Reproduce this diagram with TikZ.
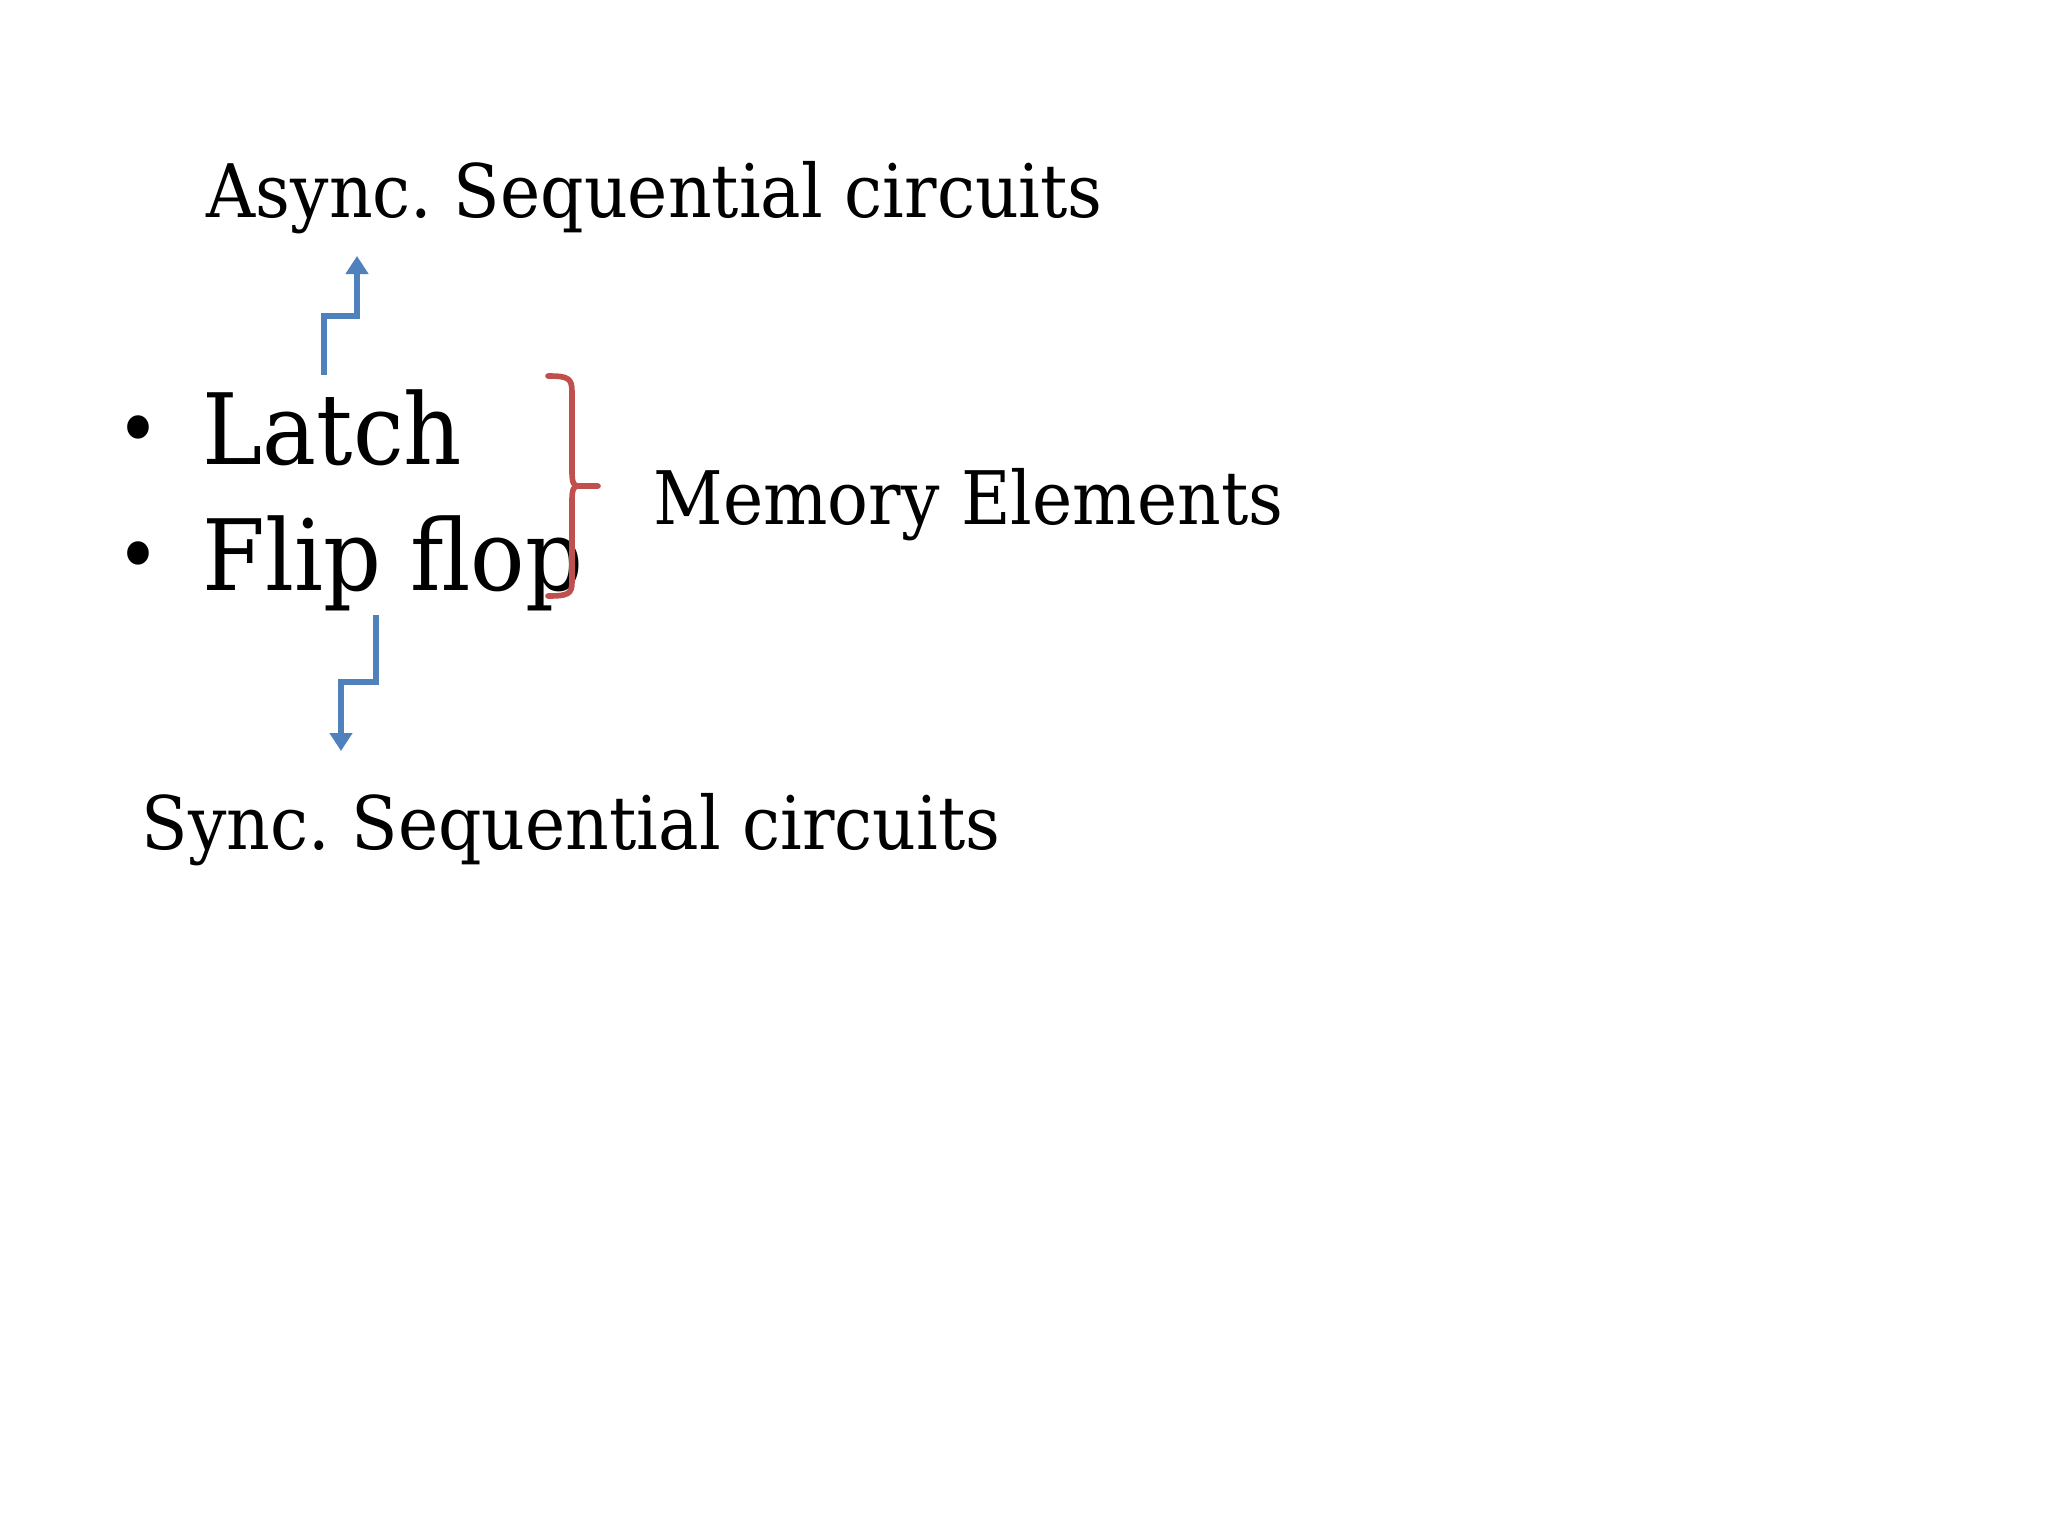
\documentclass[tikz,border=0pt]{standalone}
\usepackage{fontspec}
\setmainfont[FakeStretch=0.92]{DejaVu Serif}
\usetikzlibrary{arrows.meta}
\definecolor{ablue}{HTML}{4F81BD}
\definecolor{ared}{HTML}{C0504D}
\tikzset{
  lbl/.style={anchor=base west, inner sep=0pt, font=\fontsize{21}{25}\selectfont},
  big/.style={anchor=base west, inner sep=0pt, font=\fontsize{28}{33}\selectfont},
  bul/.style={anchor=base, inner sep=0pt, font=\fontsize{23}{27}\selectfont},
  zarrow/.style={draw=ablue, line width=1.45pt, -{Triangle[width=0.22cm,length=0.18cm]}},
  bracepath/.style={draw=ared, line width=1.6pt, line cap=round, line join=round}
}
\frenchspacing
\begin{document}
\begin{tikzpicture}[x=0.01cm,y=-0.01cm]
\useasboundingbox (0,0) rectangle (2048,1536);
\node[lbl] (async) at (206,217) {Async. Sequential circuits};
\node[bul] (b1) at (138,457) {•};
\node[big] (latch) at (202,464) {Latch};
\node[bul] (b2) at (138,583) {•};
\node[big] (flip) at (202,590) {Flip flop};
\node[lbl] (mem) at (653,524) {Memory Elements};
\node[lbl] (sync) at (141,849) {Sync. Sequential circuits};
\coordinate (upstart) at (324,375);
\coordinate (upend) at (357,256);
\coordinate (dnstart) at (376,615);
\coordinate (dnend) at (341,751);
\draw[zarrow] (upstart) -- (324,316) -- (357,316) -- (upend);
\draw[zarrow] (dnstart) -- (376,682) -- (341,682) -- (dnend);
\coordinate (bt) at (548,376);
\coordinate (bb) at (548,596);
\coordinate (btip) at (598,486);
\draw[bracepath] (bt) .. controls (568,376) and (572,378) .. (572,392) -- (572,472) .. controls (572,483) and (574,486) .. (578,486) -- (btip);
\draw[bracepath] (578,486) .. controls (574,486) and (572,489) .. (572,500) -- (572,582) .. controls (572,594) and (568,596) .. (bb);
\end{tikzpicture}
\end{document}
